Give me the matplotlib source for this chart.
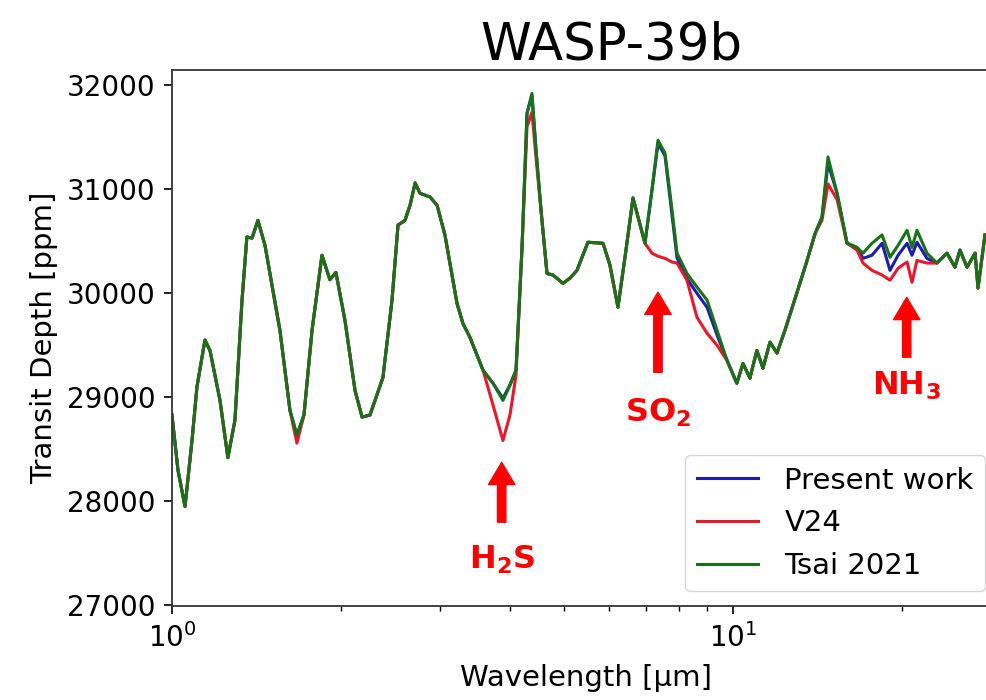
import matplotlib
matplotlib.use("Agg")
import matplotlib.pyplot as plt
from matplotlib.ticker import LogLocator, FixedLocator, NullFormatter

plt.rcParams['font.family'] = ['DejaVu Sans']

# wavelength grid [um] and transit depth [ppm]
wavelength = [
    1.000, 1.025, 1.055, 1.086, 1.108, 1.145, 1.169, 1.218, 1.258, 1.295,
    1.333, 1.360, 1.389, 1.423, 1.465, 1.558, 1.623, 1.670, 1.719, 1.777,
    1.851, 1.912, 1.960, 2.034, 2.120, 2.182, 2.254, 2.377, 2.467, 2.529,
    2.602, 2.657, 2.713, 2.768, 2.884, 2.969, 3.066, 3.221, 3.301, 3.398,
    3.585, 3.735, 3.890, 4.004, 4.104, 4.207, 4.294, 4.382, 4.456, 4.548,
    4.661, 4.776, 4.977, 5.122, 5.272, 5.514, 5.866, 6.035, 6.237, 6.446,
    6.634, 6.968, 7.171, 7.351, 7.566, 7.787, 7.948, 8.279, 8.625, 8.990,
    9.366, 9.757, 10.16, 10.42, 10.72, 11.03, 11.31, 11.64, 11.98, 12.38,
    12.79, 13.44, 14.01, 14.41, 14.77, 15.33, 15.97, 16.64, 17.05, 17.69,
    18.44, 19.05, 19.69, 20.43, 20.85, 21.28, 22.17, 23.10, 24.07, 24.87,
    25.39, 26.13, 27.01, 27.34, 28.13,
]

tsai2021 = [
    28830, 28300, 27950, 28590, 29100, 29550, 29450, 28970, 28420, 28780,
    29930, 30540, 30530, 30700, 30460, 29640, 28875, 28635, 28830, 29645,
    30365, 30130, 30200, 29740, 29065, 28810, 28830, 29190, 29930, 30655,
    30700, 30845, 31060, 30960, 30925, 30845, 30560, 29905, 29710, 29575,
    29260, 29135, 28970, 29115, 29260, 30440, 31730, 31920, 31375, 30800,
    30190, 30175, 30095, 30145, 30220, 30490, 30480, 30270, 29865, 30415,
    30915, 30480, 30990, 31470, 31345, 30800, 30385, 30190, 30060, 29935,
    29645, 29355, 29135, 29325, 29185, 29450, 29280, 29530, 29425, 29645,
    29885, 30250, 30575, 30730, 31310, 30960, 30480, 30440, 30385, 30480,
    30560, 30345, 30460, 30605, 30440, 30605, 30385, 30290, 30385, 30250,
    30415, 30250, 30385, 30050, 30560,
]

present_work = [
    28830, 28300, 27950, 28590, 29100, 29550, 29450, 28970, 28420, 28780,
    29930, 30540, 30530, 30700, 30460, 29640, 28875, 28635, 28830, 29645,
    30365, 30130, 30200, 29740, 29065, 28810, 28830, 29190, 29930, 30655,
    30700, 30845, 31060, 30960, 30925, 30845, 30560, 29905, 29710, 29575,
    29260, 29135, 28990, 29120, 29260, 30440, 31730, 31900, 31375, 30800,
    30190, 30175, 30095, 30145, 30220, 30490, 30480, 30270, 29865, 30415,
    30915, 30480, 30990, 31440, 31320, 30750, 30340, 30140, 30000, 29865,
    29600, 29355, 29135, 29325, 29185, 29450, 29280, 29530, 29425, 29645,
    29885, 30250, 30575, 30730, 31250, 30960, 30480, 30440, 30335, 30365,
    30480, 30220, 30365, 30480, 30365, 30490, 30335, 30290, 30385, 30250,
    30415, 30250, 30385, 30050, 30560,
]

v24 = [
    28830, 28300, 27950, 28590, 29100, 29550, 29450, 28970, 28420, 28780,
    29930, 30540, 30530, 30700, 30460, 29640, 28875, 28560, 28830, 29645,
    30365, 30130, 30200, 29740, 29065, 28810, 28830, 29190, 29930, 30655,
    30700, 30845, 31060, 30960, 30925, 30845, 30560, 29905, 29710, 29575,
    29260, 28925, 28585, 28830, 29210, 30440, 31600, 31740, 31300, 30800,
    30190, 30175, 30095, 30145, 30220, 30490, 30480, 30270, 29865, 30415,
    30915, 30480, 30385, 30355, 30335, 30300, 30290, 30125, 29770, 29615,
    29500, 29355, 29135, 29325, 29185, 29450, 29280, 29530, 29425, 29645,
    29885, 30250, 30575, 30700, 31050, 30900, 30480, 30415, 30290, 30220,
    30175, 30125, 30240, 30300, 30105, 30315, 30290, 30290, 30385, 30250,
    30415, 30250, 30385, 30050, 30560,
]

# molecule markers: (label, wavelength, arrow tip, arrow tail, text y)
molecules = [
    (r"H$_\mathbf{2}$S", 3.87, 28375, 27800, 27440),
    (r"SO$_\mathbf{2}$", 7.35, 30010, 29240, 28855),
    (r"NH$_\mathbf{3}$", 20.4, 29960, 29385, 29115),
]

fig = plt.figure(figsize=(9.86, 7.0), dpi=100)
ax = fig.add_axes([0.1744, 0.1343, 0.8398, 0.7657])

ax.plot(wavelength, present_work, color='#1c1cb0', lw=2.2, label='Present work')
ax.plot(wavelength, v24, color='#e8182c', lw=2.2, label='V24')
ax.plot(wavelength, tsai2021, color='#187218', lw=2.2, label='Tsai 2021')

ax.set_xscale('log')
ax.set_xlim(1.0, 29.92)
ax.set_ylim(26995, 32145)
ax.yaxis.set_major_locator(FixedLocator([27000, 28000, 29000, 30000, 31000, 32000]))
ax.xaxis.set_major_locator(LogLocator(base=10))
ax.xaxis.set_minor_locator(LogLocator(base=10, subs=range(2, 10)))
ax.xaxis.set_minor_formatter(NullFormatter())

ax.tick_params(axis='both', which='major', labelsize=20, length=6, width=1.2, pad=6)
ax.tick_params(axis='x', which='minor', length=3.5, width=1.0)
for s in ax.spines.values():
    s.set_linewidth(1.3)
    s.set_color('#333333')

ax.set_xlabel('Wavelength [\u00b5m]', fontsize=21, labelpad=8)
ax.set_ylabel('Transit Depth [ppm]', fontsize=21, labelpad=6)
ax.set_title('WASP-39b', fontsize=37, x=0.53, pad=2)

for label, wl, tip, tail, ty in molecules:
    ax.annotate('', xy=(wl, tip), xytext=(wl, tail),
                arrowprops=dict(facecolor='red', edgecolor='red',
                                width=6, headwidth=19, headlength=16))
    ax.text(wl, ty, label, color='red', fontsize=23, fontweight='bold',
            ha='center', va='center')

ax.legend(loc='lower right', fontsize=21, handlelength=2.1,
          handletextpad=0.9, labelspacing=0.5)

fig.savefig('out.png', dpi=100)
